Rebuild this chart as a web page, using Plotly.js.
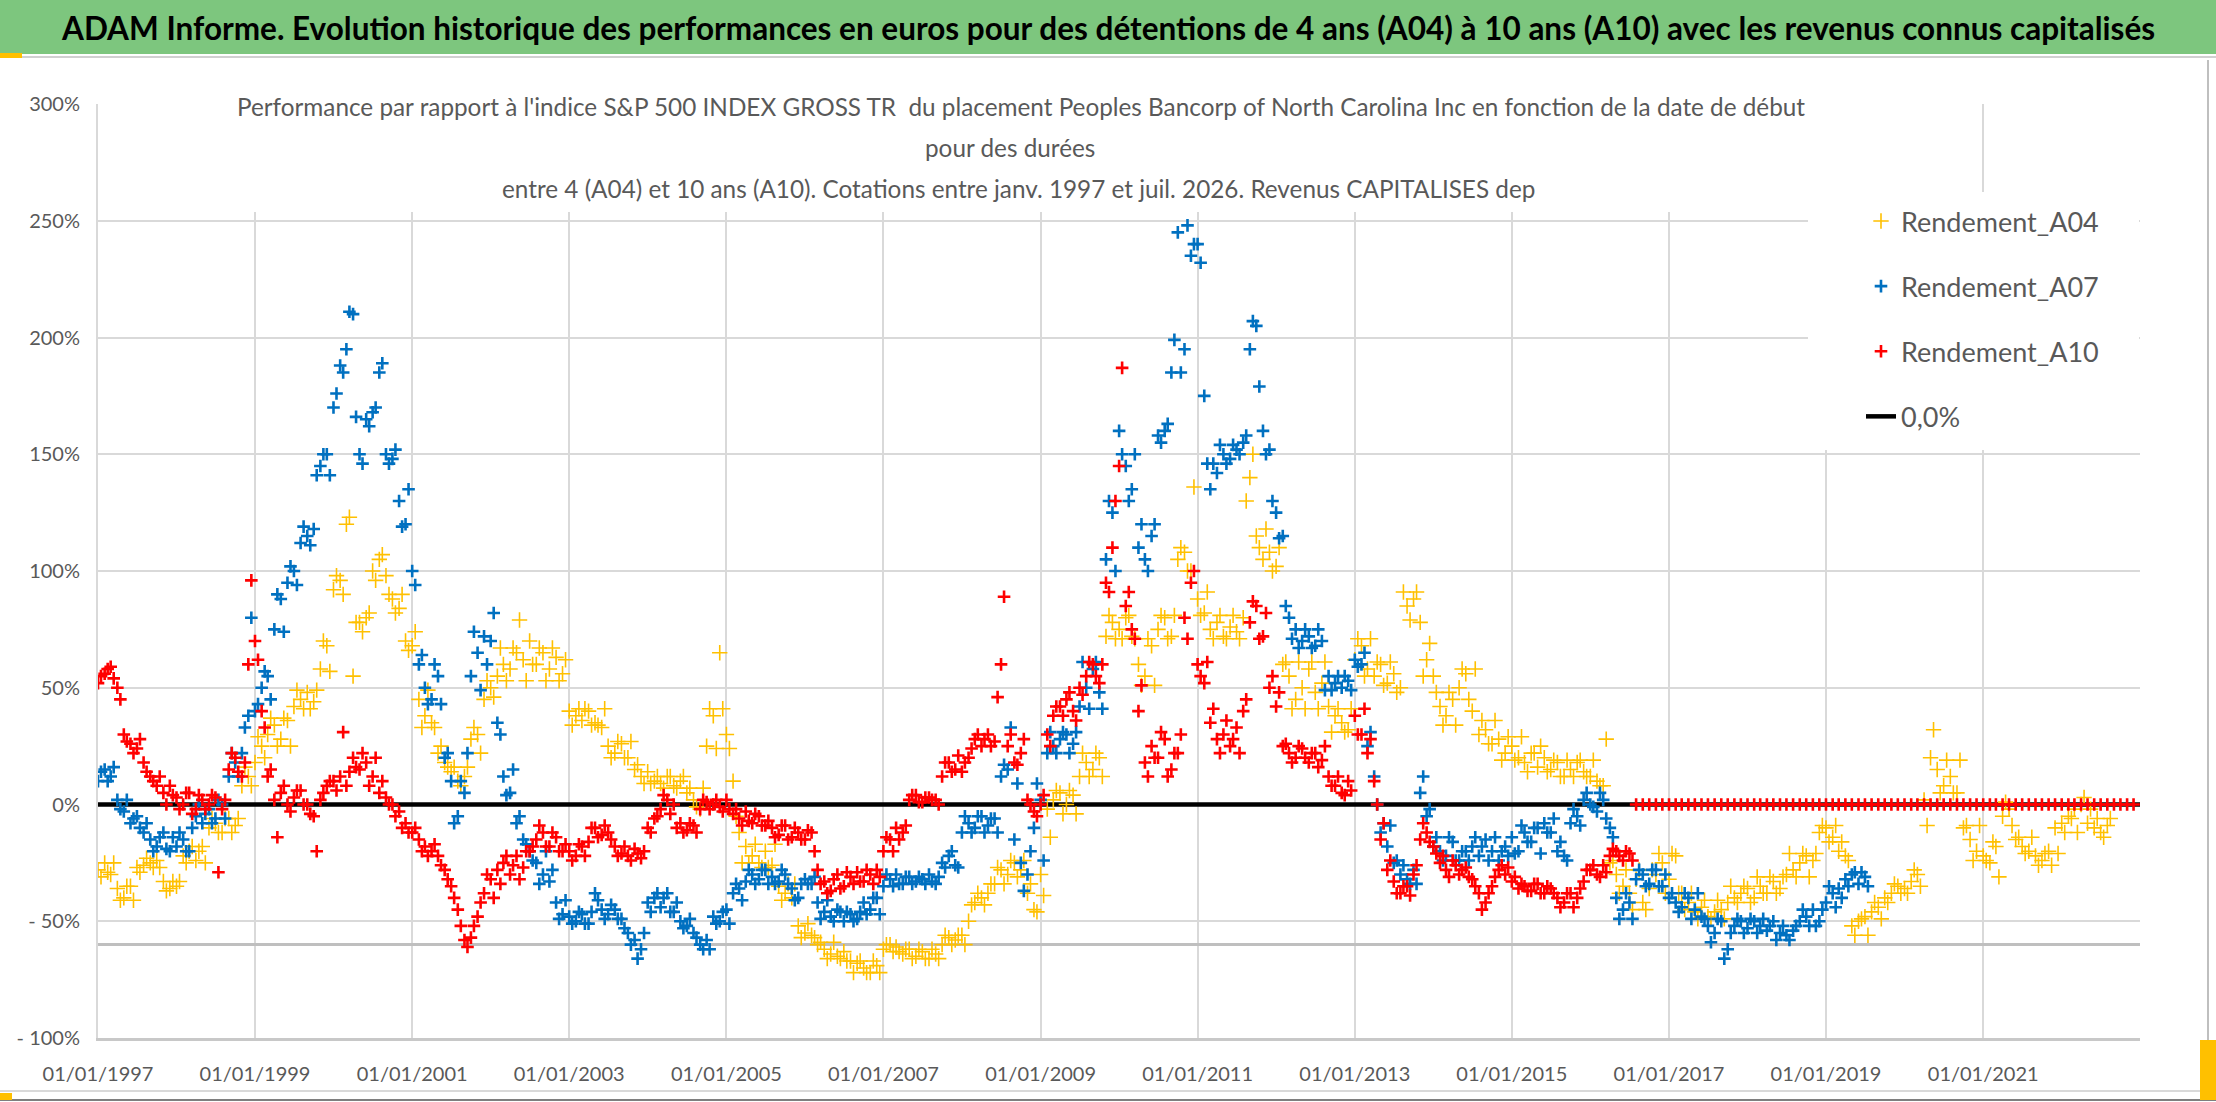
<!DOCTYPE html>
<html>
<head>
<meta charset="utf-8">
<script src="https://cdn.plot.ly/plotly-3.0.1.min.js"></script>
<style>html,body{margin:0;padding:0;background:#fff;}#chart{width:2216px;height:1102px;}</style>
</head>
<body>
<div id="chart"></div>
<script>
// ---------- DATA (values in %) ----------
// "a" arrays: readings on the 1st of each month; "b" arrays: readings on the 15th of each month
const startMonth = [1997, 0];

const rendementA04a = [
 -28,-25,-30,-36,-40,-35,-27,-26,-25,-24,-33,-36,
 -35,-22,-20,-24,-18,-10,-8,-12,-6,-9,8,12,
 18,25,30,34,28,36,42,45,48,44,58,68,
 92,96,120,55,78,80,100,105,98,88,84,70,
 68,45,38,35,22,18,14,10,12,28,30,45,
 50,55,60,58,65,62,70,60,65,58,63,56,
 40,38,36,40,35,33,25,22,26,20,15,12,
 14,10,9,12,8,10,5,2,-2,25,38,65,
 30,10,-12,-18,-22,-25,-20,-26,-35,-38,-40,-52,
 -55,-56,-60,-62,-64,-65,-63,-67,-68,-70,-72,-69,
 -62,-60,-61,-64,-62,-65,-63,-66,-64,-60,-57,-58,
 -56,-50,-42,-40,-38,-34,-28,-30,-25,-28,-38,-45,
 -30,-2,2,5,0,4,12,18,15,20,72,78,
 75,80,72,60,55,68,75,80,72,105,108,100,
 88,82,75,78,72,76,74,80,140,115,105,108,
 102,60,55,45,50,58,48,52,42,38,35,32,
 62,68,58,55,60,52,56,50,85,88,78,62,
 55,42,38,45,50,56,40,30,32,26,28,22,
 25,20,18,22,16,20,15,18,12,15,18,14,
 12,10,8,-25,-30,-35,-38,-32,-42,-36,-30,-25,
 -32,-22,-38,-42,-46,-44,-48,-46,-45,-42,-40,-38,
 -36,-40,-35,-38,-33,-36,-30,-28,-25,-22,-24,-12,
 -10,-14,-20,-22,-52,-50,-48,-46,-44,-40,-38,-35,
 -36,-33,-30,2,20,15,8,12,5,-10,-15,-20,
 -22,-25,-18,-5,-2,-15,-18,-20,-22,-24,-20,-10,
 -8,-5,-2,0,-8,-10,-12,-9
];
const rendementA04b = [
 -31,-29,-25,-41,-35,-41,-29,-23,-27,-27,-37,-33,
 -33,-25,-18,-20,-25,-6,-12,-6,-12,-6,16,8,
 29,20,37,25,37,25,49,41,41,49,70,57,
 98,90,123,78,74,82,96,107,90,82,90,66,
 74,33,49,33,25,16,16,8,16,33,22,53,
 46,67,53,67,79,53,60,67,53,67,53,62,
 34,41,41,34,34,41,20,27,20,27,17,9,
 9,12,7,12,7,12,7,-1,7,41,24,41,
 24,-5,-25,-25,-17,-27,-27,-17,-41,-34,-34,-57,
 -51,-57,-59,-66,-59,-66,-67,-72,-67,-72,-67,-72,
 -60,-63,-63,-62,-66,-62,-66,-62,-66,-56,-60,-56,
 -60,-43,-38,-43,-34,-27,-34,-24,-31,-24,-34,-46,
 -39,-14,6,-4,6,-4,22,12,22,12,81,71,
 71,81,71,51,71,51,81,71,81,110,100,136,
 81,91,71,81,71,81,71,130,150,110,118,100,
 110,61,41,61,41,61,41,61,31,41,31,41,
 71,55,71,61,51,61,48,91,79,91,55,69,
 48,34,48,34,58,45,58,36,26,36,19,29,
 19,29,14,22,25,14,19,12,19,12,19,12,
 19,8,28,-24,-38,-28,-45,-28,-45,-28,-21,-38,
 -21,-38,-45,-38,-49,-41,-49,-41,-49,-35,-42,-35,
 -42,-31,-38,-31,-38,-31,-21,-31,-21,-31,-21,-9,
 -16,-9,-16,-24,-56,-49,-56,-42,-49,-42,-34,-38,
 -38,-28,-35,-9,32,5,19,5,19,-9,-24,-9,
 -24,-16,-31,1,-9,-14,-21,-14,-26,-21,-26,-21,
 -12,-6,-12,3,-2,-6,-14,-6
];

const rendementA07a = [
 10,15,12,2,-3,-8,-5,-12,-15,-18,-12,-20,
 -18,-15,-20,-5,-8,-2,-6,0,12,18,22,38,
 40,50,55,75,88,95,100,112,115,118,145,150,
 170,188,195,210,150,165,168,185,150,148,130,120,
 100,60,50,45,55,20,10,-5,5,55,65,72,
 70,35,12,5,-8,-15,-20,-25,-30,-33,-42,-47,
 -48,-50,-47,-51,-38,-45,-47,-45,-49,-55,-58,-62,
 -42,-40,-44,-38,-46,-50,-52,-55,-60,-58,-48,-50,
 -45,-38,-36,-33,-30,-32,-28,-31,-33,-30,-36,-40,
 -32,-34,-42,-46,-48,-45,-50,-47,-49,-42,-45,-40,
 -35,-32,-30,-34,-31,-33,-32,-30,-34,-25,-22,-26,
 -12,-8,-10,-5,-9,-6,12,15,-15,-25,-30,-10,
 2,22,25,28,30,26,42,50,58,48,105,125,
 160,145,135,110,105,115,158,160,185,245,195,235,
 240,175,135,142,150,148,152,155,195,205,160,152,
 125,115,80,75,70,72,68,70,55,52,50,53,
 62,60,25,12,-12,-18,-25,-30,-32,-28,5,-5,
 -18,-20,-22,-16,-24,-20,-18,-22,-15,-20,-24,-18,
 -14,-20,-12,-16,-10,-8,-12,-20,-22,-8,-5,2,
 0,-3,2,-10,-40,-45,-42,-32,-30,-34,-28,-35,
 -40,-42,-44,-40,-45,-48,-52,-55,-50,-62,-52,-50,
 -53,-50,-52,-54,-50,-55,-56,-54,-50,-48,-45,-50,
 -42,-38,-36,-32,-30,-34,-31
];
const rendementA07b = [
 14,10,16,-2,2,-6,-10,-8,-20,-14,-19,-14,
 -12,-20,-10,0,-4,-8,2,-6,22,12,33,80,
 43,57,45,90,74,102,94,119,111,141,150,141,
 176,185,211,166,146,162,170,189,146,152,119,135,
 94,64,43,60,43,22,-8,10,22,74,49,60,
 82,30,4,15,-5,-17,-24,-34,-20,-28,-49,-41,
 -51,-46,-51,-46,-41,-49,-43,-49,-53,-60,-66,-55,
 -46,-38,-40,-46,-42,-53,-49,-57,-62,-62,-51,-46,
 -51,-34,-41,-28,-34,-28,-34,-34,-28,-34,-41,-34,
 -34,-31,-49,-41,-50,-46,-46,-50,-46,-47,-40,-47,
 -30,-35,-34,-31,-34,-31,-34,-33,-31,-27,-20,-27,
 -5,-12,-5,-12,-6,-12,17,33,9,-37,-20,9,
 -24,31,22,31,22,31,61,41,61,41,130,100,
 150,130,150,120,100,120,155,163,199,185,248,240,
 232,146,146,154,146,154,150,158,207,179,150,130,
 114,85,71,67,75,67,75,49,49,55,55,49,
 59,65,31,0,-8,-9,-24,-26,-34,-34,12,-2,
 -14,-24,-14,-24,-20,-24,-14,-18,-24,-14,-20,-22,
 -21,-9,-16,-10,-21,-12,-6,-16,-24,-2,-9,5,
 -1,5,-6,-14,-49,-38,-49,-28,-35,-28,-35,-30,
 -38,-46,-38,-49,-38,-49,-59,-49,-66,-55,-49,-55,
 -49,-55,-49,-52,-58,-52,-58,-52,-45,-52,-52,-45,
 -35,-44,-40,-35,-29,-29,-35
];

const rendementA10a = [
 52,56,59,50,30,26,24,18,12,8,5,8,
 3,0,5,-2,2,0,3,-2,15,20,12,60,
 70,40,12,2,5,0,3,6,0,-5,2,8,
 10,12,8,20,15,18,12,5,3,0,-3,-8,
 -12,-15,-18,-20,-22,-28,-35,-45,-58,-57,-48,-38,
 -32,-28,-25,-30,-22,-27,-20,-15,-12,-18,-14,-20,
 -20,-22,-18,-16,-10,-13,-12,-18,-21,-22,-19,-23,
 -10,-6,-2,2,0,-8,-11,-9,-2,1,0,-1,
 2,-4,-6,-3,-8,-5,-9,-10,-13,-9,-14,-12,
 -15,-12,-28,-33,-37,-30,-35,-31,-29,-33,-30,-28,
 -20,-15,-10,-12,2,4,1,3,2,12,18,15,
 14,20,28,25,30,27,60,25,18,22,2,-3,
 0,30,38,42,45,40,50,55,60,52,95,110,
 145,85,75,40,18,25,20,28,15,22,80,95,
 60,52,35,28,30,25,33,40,78,85,72,50,
 42,25,22,20,24,18,22,19,12,8,5,10,
 38,30,22,10,-15,-28,-33,-38,-35,-30,-15,-12,
 -18,-25,-28,-24,-30,-27,-32,-38,-42,-35,-28,-30,
 -33,-36,-35,-37,-34,-38,-36,-40,-42,-38,-40,-33,
 -28,-30,-26,-22,-20,-24,-21,
 0,0,0,0,0,
 0,0,0,0,0,0,0,0,0,0,0,0,
 0,0,0,0,0,0,0,0,0,0,0,0,
 0,0,0,0,0,0,0,0,0,0,0,0,
 0,0,0,0,0,0,0,0,0,0,0,0,
 0,0,0,0,0,0,0,0,0,0,0,0,
 0,0,0,0,0,0,0,0,0,0,0,0
];
const rendementA10b = [
 55,58,54,45,27,22,28,14,10,12,0,4,
 -2,5,-4,4,-2,4,-29,2,22,14,18,96,
 62,33,15,-14,8,-3,6,0,-4,-20,5,10,
 6,31,14,16,22,8,20,10,0,-5,-10,-12,
 -10,-20,-22,-17,-26,-32,-40,-52,-61,-52,-42,-30,
 -40,-34,-22,-26,-32,-20,-18,-9,-18,-12,-20,-17,
 -24,-17,-22,-10,-14,-9,-15,-22,-18,-24,-21,-20,
 -12,-5,4,-4,-10,-12,-8,-12,2,-2,2,-3,
 -2,-2,-9,-7,-4,-9,-7,-14,-9,-15,-10,-15,
 -11,-20,-34,-38,-32,-36,-29,-34,-33,-28,-34,-31,
 -14,-20,-15,-9,4,1,3,2,0,18,14,21,
 18,24,30,28,25,46,89,30,17,28,0,-5,
 4,25,42,38,48,36,47,61,55,60,91,130,
 187,91,71,51,12,20,31,12,22,30,71,100,
 55,61,41,22,36,28,22,45,87,71,82,55,
 48,26,18,25,20,22,16,25,8,12,4,6,
 30,41,28,0,-8,-24,-38,-35,-39,-26,-8,-16,
 -21,-22,-31,-26,-28,-31,-35,-45,-38,-31,-26,-27,
 -31,-34,-37,-34,-38,-35,-38,-44,-38,-44,-36,-28,
 -26,-31,-29,-19,-22,-20,-24
];

const zeroLineX = ['1997-01-01', '2022-12-31'];
const zeroLineY = [0, 0];
const refLineX = ['1997-01-01', '2022-12-31'];
const refLineY = [-0.6, -0.6];

const seriesNames = ['Rendement_A04', 'Rendement_A07', 'Rendement_A10', '0,0%'];
const yTickVals = [-1, -0.5, 0, 0.5, 1, 1.5, 2, 2.5, 3];
const yTickText = ['- 100%', '- 50%', '0%', '50%', '100%', '150%', '200%', '250%', '300%'];
const xTickVals = ['1997-01-01','1999-01-01','2001-01-01','2003-01-01','2005-01-01','2007-01-01',
                   '2009-01-01','2011-01-01','2013-01-01','2015-01-01','2017-01-01','2019-01-01','2021-01-01'];
const xTickText = ['01/01/1997','01/01/1999','01/01/2001','01/01/2003','01/01/2005','01/01/2007',
                   '01/01/2009','01/01/2011','01/01/2013','01/01/2015','01/01/2017','01/01/2019','01/01/2021'];

const mainTitle = 'ADAM Informe. Evolution historique des performances en euros pour des détentions de 4 ans (A04) à 10 ans (A10) avec les revenus connus capitalisés';
const subTitle1 = "Performance par rapport à l'indice S&amp;P 500 INDEX GROSS TR  du placement Peoples Bancorp of North Carolina Inc en fonction de la date de début";
const subTitle2 = 'pour des durées';
const subTitle3 = 'entre 4 (A04) et 10 ans (A10). Cotations entre janv. 1997 et juil. 2026. Revenus CAPITALISES dep';

// ---------- helpers ----------
function monthDates(start, n, day) {
  const out = [];
  for (let i = 0; i < n; i++) {
    const d = new Date(Date.UTC(start[0], start[1] + i, day));
    out.push(d.toISOString().slice(0, 10));
  }
  return out;
}
const pct = a => a.map(v => v / 100);
function series(a, b) {
  return {
    x: monthDates(startMonth, a.length, 1).concat(monthDates(startMonth, b.length, 15)),
    y: pct(a).concat(pct(b))
  };
}

const FONT = "Lato, 'Open Sans', sans-serif";
const GREY = '#595959';
const W = 2216, H = 1102, L = 98, R = 2140, T = 104, B = 1038;
const px = x => (x - L) / (R - L);
const py = y => (B - y) / (B - T);

const sA04 = series(rendementA04a, rendementA04b);
const sA07 = series(rendementA07a, rendementA07b);
const sA10 = series(rendementA10a, rendementA10b);

const traces = [
  { x: refLineX, y: refLineY, mode: 'lines', line: { color: '#BFBFBF', width: 3 },
    showlegend: false, hoverinfo: 'skip' },
  { x: zeroLineX, y: zeroLineY, mode: 'lines', name: seriesNames[3], legendrank: 4, legendgroup: 'g4',
    line: { color: '#000000', width: 4.5 } },
  { x: sA04.x, y: sA04.y, mode: 'markers',
    name: seriesNames[0], legendrank: 1, legendgroup: 'g1',
    marker: { symbol: 'cross-thin', size: 11, color: '#FFC000', line: { color: '#FFC000', width: 1.6 } } },
  { x: sA07.x, y: sA07.y, mode: 'markers',
    name: seriesNames[1], legendrank: 2, legendgroup: 'g2',
    marker: { symbol: 'cross-thin', size: 9, color: '#0070C0', line: { color: '#0070C0', width: 2.6 } } },
  { x: sA10.x, y: sA10.y, mode: 'markers',
    name: seriesNames[2], legendrank: 3, legendgroup: 'g3',
    marker: { symbol: 'cross-thin', size: 9, color: '#FF0000', line: { color: '#FF0000', width: 2.6 } } }
];

const shapes = [
  { type: 'rect', xref: 'paper', yref: 'paper', x0: px(0), x1: px(W), y0: py(54), y1: py(0),
    fillcolor: '#7DC67E', line: { width: 0 }, layer: 'above' },
  { type: 'line', xref: 'paper', yref: 'paper', x0: px(0), x1: px(W), y0: py(57), y1: py(57),
    line: { color: '#D0D0D0', width: 2 }, layer: 'above' },
  { type: 'rect', xref: 'paper', yref: 'paper', x0: px(0), x1: px(22), y0: py(58), y1: py(53),
    fillcolor: '#FFC000', line: { width: 0 }, layer: 'above' },
  { type: 'rect', xref: 'paper', yref: 'paper', x0: px(226), x1: px(1978), y0: py(212), y1: py(90),
    fillcolor: '#FFFFFF', line: { width: 0 }, layer: 'above' },
  { type: 'rect', xref: 'paper', yref: 'paper', x0: px(1808), x1: px(2139), y0: py(450), y1: py(192),
    fillcolor: '#FFFFFF', line: { width: 0 }, layer: 'above' },
  { type: 'line', xref: 'paper', yref: 'paper', x0: px(2208), x1: px(2208), y0: py(1095), y1: py(60),
    line: { color: '#BFBFBF', width: 2 }, layer: 'above' },
  { type: 'line', xref: 'paper', yref: 'paper', x0: px(0), x1: px(2208), y0: py(1091), y1: py(1091),
    line: { color: '#D9D9D9', width: 2 }, layer: 'above' },
  { type: 'line', xref: 'paper', yref: 'paper', x0: px(0), x1: px(W), y0: py(1100), y1: py(1100),
    line: { color: '#7F7F7F', width: 2 }, layer: 'above' },
  { type: 'rect', xref: 'paper', yref: 'paper', x0: px(2200), x1: px(2216), y0: py(1100), y1: py(1040),
    fillcolor: '#FFC000', line: { width: 0 }, layer: 'above' },
  { type: 'rect', xref: 'paper', yref: 'paper', x0: px(0), x1: px(12), y0: py(1100), y1: py(1093),
    fillcolor: '#FFC000', line: { width: 0 }, layer: 'above' }
];

const annotations = [
  { text: '<b>' + mainTitle + '</b>', xref: 'paper', yref: 'paper', x: px(1108), y: py(28),
    xanchor: 'center', yanchor: 'middle', showarrow: false,
    font: { family: FONT, size: 31.5, color: '#000000' } },
  { text: subTitle1, xref: 'paper', yref: 'paper', x: px(1021), y: py(106),
    xanchor: 'center', yanchor: 'middle', showarrow: false, font: { family: FONT, size: 24.3, color: GREY } },
  { text: subTitle2, xref: 'paper', yref: 'paper', x: px(1010), y: py(147),
    xanchor: 'center', yanchor: 'middle', showarrow: false, font: { family: FONT, size: 24.3, color: GREY } },
  { text: subTitle3, xref: 'paper', yref: 'paper', x: px(1018), y: py(188),
    xanchor: 'center', yanchor: 'middle', showarrow: false, font: { family: FONT, size: 24.3, color: GREY } }
];

const layout = {
  width: W, height: H,
  margin: { l: L, r: W - R, t: T, b: H - B, pad: 0 },
  paper_bgcolor: '#FFFFFF', plot_bgcolor: '#FFFFFF',
  font: { family: FONT, color: GREY },
  showlegend: true,
  legend: {
    x: px(1861), y: py(197), xanchor: 'left', yanchor: 'top',
    bgcolor: 'rgba(255,255,255,0)', borderwidth: 0,
    font: { family: FONT, size: 27, color: GREY },
    traceorder: 'grouped', tracegroupgap: 27
  },
  xaxis: {
    type: 'date', range: ['1997-01-01', '2022-12-31'],
    tickvals: xTickVals, ticktext: xTickText, ticks: '',
    showgrid: true, gridcolor: '#D9D9D9', gridwidth: 2,
    showline: true, linecolor: '#C8C8C8', linewidth: 3,
    zeroline: false, ticklabelstandoff: 16,
    tickfont: { family: FONT, size: 20, color: GREY }
  },
  yaxis: {
    range: [-1, 3], tickvals: yTickVals, ticktext: yTickText, ticks: '',
    showgrid: true, gridcolor: '#D9D9D9', gridwidth: 2,
    showline: true, linecolor: '#D9D9D9', linewidth: 2,
    zeroline: false, ticklabelstandoff: 12,
    tickfont: { family: FONT, size: 20, color: GREY }
  },
  shapes: shapes,
  annotations: annotations
};

Plotly.newPlot('chart', traces, layout, { staticPlot: true, displayModeBar: false });
</script>
</body>
</html>
